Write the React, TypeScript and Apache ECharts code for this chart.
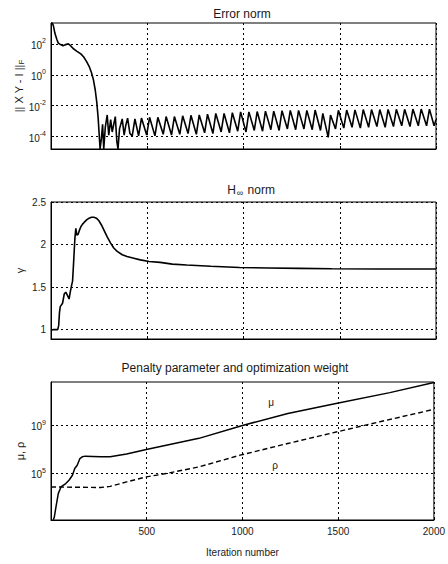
import React, { useEffect, useRef } from "react";
import * as echarts from "echarts";

// [iteration, log10(||XY - I||_F)]
const errorNorm: [number, number][] = [
  [0, 3.35], [6, 3.35], [12, 3.2], [20, 2.7], [30, 2.3], [38, 2.05], [50, 1.95], [62, 1.88],
  [75, 1.95], [90, 2.0], [100, 1.9], [115, 1.7], [135, 1.52], [155, 1.35], [170, 1.15],
  [185, 0.85], [198, 0.55], [210, 0.15], [220, -0.3], [230, -1.0], [238, -1.8], [245, -2.8],
  [250, -3.8], [255, -4.8], [262, -4.1], [268, -3.2], [274, -4.8], [282, -3.4], [292, -2.6],
  [300, -3.9], [310, -2.9], [318, -3.7], [334, -2.7], [342, -4.3], [348, -4.8], [356, -3.5],
  [370, -2.85], [380, -3.9], [388, -3.3], [398, -2.8], [410, -3.8], [422, -3.95], [436, -2.85],
  [455, -3.95], [470, -2.8], [497, -3.9], [512, -2.75], [540, -3.95], [555, -2.75],
  [583, -3.85], [598, -2.7], [626, -3.9], [641, -2.7], [669, -3.85], [684, -2.65],
  [712, -3.8], [727, -2.62], [755, -3.85], [770, -2.6], [798, -3.75], [813, -2.55],
  [841, -3.8], [856, -2.5], [884, -3.7], [899, -2.5], [927, -3.75], [942, -2.45],
  [970, -3.65], [985, -2.4], [1013, -3.7], [1028, -2.4], [1056, -3.6], [1071, -2.38],
  [1099, -3.65], [1114, -2.35], [1142, -3.55], [1157, -2.35], [1185, -3.6], [1200, -2.32],
  [1228, -3.5], [1243, -2.3], [1271, -3.55], [1286, -2.3], [1314, -3.5], [1329, -2.3],
  [1357, -3.55], [1372, -2.28], [1400, -3.6], [1412, -2.5], [1440, -4.05], [1452, -2.6],
  [1478, -3.5], [1493, -2.3], [1521, -3.45], [1536, -2.28], [1564, -3.4], [1579, -2.27],
  [1607, -3.45], [1622, -2.25], [1650, -3.4], [1665, -2.25], [1693, -3.35], [1708, -2.25],
  [1736, -3.4], [1751, -2.24], [1779, -3.35], [1794, -2.23], [1822, -3.3], [1837, -2.23],
  [1865, -3.35], [1880, -2.22], [1908, -3.3], [1923, -2.22], [1951, -3.3], [1966, -2.22],
  [1990, -3.3], [2000, -2.9],
];

// [iteration, gamma]
const hinfNorm: [number, number][] = [
  [0, 0.99], [10, 1.0], [35, 1.0], [40, 1.05], [44, 1.2], [48, 1.27], [60, 1.31], [69, 1.42],
  [77, 1.44], [86, 1.4], [94, 1.36], [100, 1.44], [107, 1.52], [112, 1.57], [117, 1.77],
  [124, 2.07], [129, 2.19], [134, 2.11], [141, 2.12], [148, 2.17], [155, 2.21], [164, 2.24],
  [172, 2.26], [185, 2.29], [198, 2.31], [210, 2.32], [223, 2.32], [236, 2.31], [249, 2.28],
  [262, 2.23], [275, 2.17], [292, 2.09], [309, 2.02], [326, 1.96], [344, 1.92], [370, 1.88],
  [395, 1.86], [430, 1.84], [464, 1.82], [510, 1.8], [567, 1.79], [630, 1.77], [705, 1.76],
  [830, 1.745], [979, 1.73], [1130, 1.725], [1289, 1.72], [1460, 1.715], [1700, 1.713],
  [2000, 1.712],
];

// [iteration, log10(mu)]
const mu: [number, number][] = [
  [12, 1.1], [17, 1.3], [26, 2.17], [38, 3.29], [52, 3.85], [77, 4.13], [94, 4.41], [112, 4.83],
  [124, 5.39], [137, 5.67], [151, 6.23], [163, 6.37], [180, 6.43], [258, 6.37], [309, 6.37],
  [395, 6.6], [498, 6.99], [773, 7.92], [1000, 9.0], [1237, 10.0], [1495, 10.86], [1770, 11.75],
  [2000, 12.6],
];

// [iteration, log10(rho)]
const rho: [number, number][] = [
  [0, 3.85], [258, 3.8], [309, 3.9], [395, 4.27], [498, 4.69], [601, 4.97], [773, 5.53],
  [988, 6.51], [1237, 7.49], [1495, 8.47], [1718, 9.31], [2000, 10.35],
];

const xTicks = [500, 1000, 1500, 2000];
const errTicks = [-4, -2, 0, 2];
const gammaTicks = [1, 1.5, 2, 2.5];
const penTicks = [5, 9];

const FONT = "Liberation Sans, Arial, sans-serif";
const INK = "#1a1a1a";

const supRich = {
  b: { fontSize: 10, fontFamily: FONT, color: INK, verticalAlign: "bottom" as const },
  s: { fontSize: 7, fontFamily: FONT, color: INK, verticalAlign: "bottom" as const, padding: [0, 0, 6, 0] },
};

const expLabel = (v: number) => `{b|10}{s|${Math.round(v)}}`;

const gridLine = { show: true, lineStyle: { color: "#000", type: [2, 3] as any, width: 1 } };

export default function App() {
  const ref = useRef<HTMLDivElement>(null);
  useEffect(() => {
    document.body.style.margin = "0";
    const chart = echarts.init(ref.current!, undefined, { renderer: "svg" });
    const grids = [
      { left: 51, right: 12, top: 23, height: 126 },
      { left: 51, right: 12, top: 202, height: 137 },
      { left: 51, right: 12, top: 382, height: 138 },
    ].map((g) => ({ ...g, show: true, borderColor: "#000", borderWidth: 1, backgroundColor: "transparent" }));

    const xAxisBase = (i: number) => ({
      type: "value" as const,
      gridIndex: i,
      min: 0,
      max: 2000,
      interval: 500,
      axisLine: { show: true, onZero: false, lineStyle: { color: "#000", width: 1 } },
      axisTick: { show: true, inside: true, length: 3, lineStyle: { color: "#000" } },
      splitLine: gridLine,
      axisLabel: {
        show: i === 2,
        fontSize: 10,
        fontFamily: FONT,
        color: INK,
        margin: 6,
        formatter: (v: number) => String(v),
        customValues: i === 2 ? xTicks : undefined,
      },
      name: i === 2 ? "Iteration number" : "",
      nameLocation: "middle" as const,
      nameGap: 27,
      nameMoveOverlap: false,
      nameTextStyle: { fontSize: 10, fontFamily: FONT, color: INK },
    });

    const yAxisBase = (i: number, min: number, max: number, ticks: number[], fmt: (v: number) => string, rich: any, name: string, nameRich: any) => ({
      type: "value" as const,
      gridIndex: i,
      min,
      max,
      axisLine: { show: true, onZero: false, lineStyle: { color: "#000", width: 1 } },
      axisTick: { show: true, inside: true, length: 3, lineStyle: { color: "#000" }, customValues: ticks },
      splitLine: gridLine,
      axisLabel: {
        customValues: ticks,
        formatter: fmt,
        rich,
        fontSize: 10,
        fontFamily: FONT,
        color: INK,
        margin: 5,
      },
      name,
      nameLocation: "middle" as const,
      nameRotate: 90,
      nameGap: 26,
      nameMoveOverlap: false,
      nameTextStyle: { fontSize: 11, fontFamily: FONT, color: INK, rich: nameRich },
    });

    const titleStyle = { fontSize: 12, fontWeight: "normal" as const, fontFamily: FONT, color: INK };

    chart.setOption({
      animation: false,
      backgroundColor: "#fff",
      title: [
        { text: "Error norm", left: 237, top: 3, textAlign: "center", textStyle: titleStyle },
        {
          text: "H{sub|∞} norm",
          left: 246,
          top: 177,
          textAlign: "center",
          textStyle: {
            ...titleStyle,
            rich: {
              sub: { fontSize: 9, fontFamily: FONT, color: INK, verticalAlign: "top", padding: [6, 1, 0, 1] },
            },
          },
        },
        { text: "Penalty parameter and optimization weight", left: 230, top: 357, textAlign: "center", textStyle: titleStyle },
      ],
      grid: grids,
      xAxis: [xAxisBase(0), xAxisBase(1), xAxisBase(2)],
      yAxis: [
        yAxisBase(0, -4.8, 3.35, errTicks, expLabel, supRich, "|| X Y - I ||{f|F}", {
          f: { fontSize: 8, fontFamily: FONT, color: INK, verticalAlign: "top", padding: [5, 0, 0, 0] },
        }),
        yAxisBase(1, 0.89, 2.5, gammaTicks, (v: number) => String(v), undefined, "γ", undefined),
        yAxisBase(2, 1.08, 12.64, penTicks, expLabel, supRich, "μ, ρ", undefined),
      ],
      series: [
        {
          type: "line",
          xAxisIndex: 0,
          yAxisIndex: 0,
          data: errorNorm,
          showSymbol: false,
          lineStyle: { color: "#000", width: 1.6 },
        },
        {
          type: "line",
          xAxisIndex: 1,
          yAxisIndex: 1,
          data: hinfNorm,
          showSymbol: false,
          lineStyle: { color: "#000", width: 1.6 },
        },
        {
          type: "line",
          xAxisIndex: 2,
          yAxisIndex: 2,
          data: mu,
          showSymbol: false,
          lineStyle: { color: "#000", width: 1.5 },
          markPoint: {
            symbol: "circle",
            symbolSize: 0,
            data: [{ coord: [1150, 10.9] }],
            label: { show: true, formatter: "μ", position: "inside", fontSize: 10, fontFamily: FONT, color: INK },
          },
        },
        {
          type: "line",
          xAxisIndex: 2,
          yAxisIndex: 2,
          data: rho,
          showSymbol: false,
          lineStyle: { color: "#000", width: 1.4, type: [5, 3] },
          markPoint: {
            symbol: "circle",
            symbolSize: 0,
            data: [{ coord: [1170, 5.67] }],
            label: { show: true, formatter: "ρ", position: "inside", fontSize: 10, fontFamily: FONT, color: INK },
          },
        },
      ],
    });
    return () => chart.dispose();
  }, []);
  return <div ref={ref} style={{ width: 448, height: 564 }} />;
}
